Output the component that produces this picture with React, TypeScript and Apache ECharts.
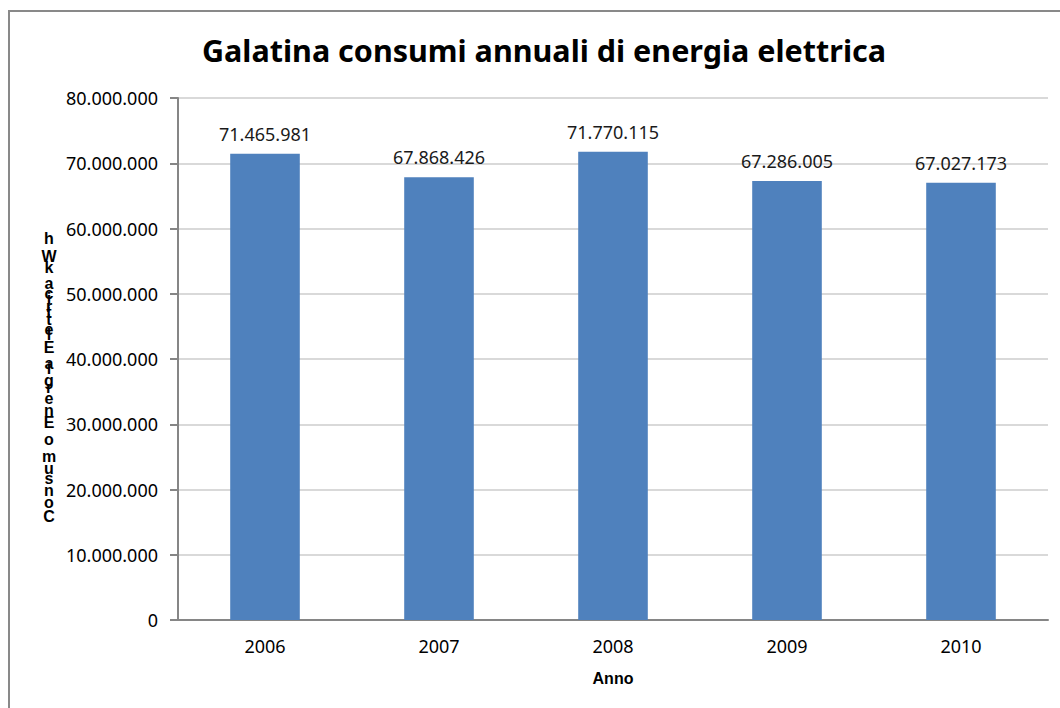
import React, { useEffect, useRef } from "react";
import * as echarts from "echarts";

const years = ["2006", "2007", "2008", "2009", "2010"];
const consumi = [71465981, 67868426, 71770115, 67286005, 67027173];
const titleText = "Galatina consumi annuali di energia elettrica";
const yAxisTitle = "Consumo Energia Elettrica kWh";
const xAxisTitle = "Anno";

const FONT = "'Noto Sans', 'Open Sans', sans-serif";
const BOLD_FONT = "'Liberation Sans', Arial, sans-serif";

function fmt(n: number): string {
  return String(Math.round(n)).replace(/\B(?=(\d{3})+(?!\d))/g, ".");
}

function buildVerticalLabel(): any[] {
  // Excel-like stacked label: characters upright, read bottom-to-top,
  // each advanced by its own glyph width.
  const fontSize = 16;
  const font = `bold ${fontSize}px ${BOLD_FONT}`;
  const ctx = document.createElement("canvas").getContext("2d") as CanvasRenderingContext2D;
  ctx.font = font;
  const chars = yAxisTitle.split("");
  const widths = chars.map((c) => ctx.measureText(c).width);
  const total = widths.reduce((a, b) => a + b, 0);
  const bottom = 524;
  const topY = 235;
  const scale = (bottom - topY) / total;
  const els: any[] = [];
  let y = bottom;
  chars.forEach((c, i) => {
    const adv = widths[i] * scale;
    if (c !== " ") {
      els.push({
        type: "text",
        x: 49,
        y: y,
        style: {
          text: c,
          font,
          fill: "#000",
          align: "center",
          verticalAlign: "bottom",
        },
      });
    }
    y -= adv;
  });
  return els;
}

export default function App() {
  const ref = useRef<HTMLDivElement>(null);
  useEffect(() => {
    document.body.style.margin = "0";
    const chart = echarts.init(ref.current!, null, { renderer: "svg" });
    chart.setOption({
      animation: false,
      backgroundColor: "#fff",
      title: {
        text: titleText,
        left: 539,
        top: 29,
        textAlign: "center",
        textStyle: { fontFamily: FONT, fontWeight: "bold", fontSize: 30.5, color: "#000" },
      },
      grid: { left: 178, right: 12, top: 98, bottom: 88, containLabel: false },
      xAxis: {
        type: "category",
        data: years,
        name: xAxisTitle,
        nameLocation: "middle",
        nameGap: 50,
        nameTextStyle: { fontFamily: BOLD_FONT, fontWeight: "bold", fontSize: 16, color: "#000" },
        axisLine: { lineStyle: { color: "#868686", width: 2 } },
        axisTick: { show: false },
        axisLabel: { fontFamily: FONT, fontSize: 18, color: "#000", margin: 17 },
      },
      yAxis: {
        type: "value",
        min: 0,
        max: 80000000,
        interval: 10000000,
        axisLine: { show: true, lineStyle: { color: "#868686", width: 2 } },
        axisTick: { show: true, length: 8, lineStyle: { color: "#868686", width: 2 } },
        splitLine: { lineStyle: { color: "#d9d9d9", width: 2 } },
        axisLabel: {
          fontFamily: FONT,
          fontSize: 18,
          color: "#000",
          margin: 20,
          formatter: (v: number) => fmt(v),
        },
      },
      series: [
        {
          type: "bar",
          data: consumi,
          barWidth: "40%",
          itemStyle: { color: "#4f81bd" },
          label: {
            show: true,
            position: "top",
            distance: 11,
            fontFamily: FONT,
            fontSize: 18,
            color: "#1a1a1a",
            formatter: (p: any) => fmt(p.value),
          },
        },
      ],
      graphic: [
        {
          type: "rect",
          shape: { x: 9, y: 11, width: 1200, height: 800 },
          style: { fill: "none", stroke: "#898989", lineWidth: 2 },
          silent: true,
        },
        ...buildVerticalLabel(),
      ],
    });
    return () => chart.dispose();
  }, []);
  return <div ref={ref} style={{ width: 1060, height: 708 }} />;
}
